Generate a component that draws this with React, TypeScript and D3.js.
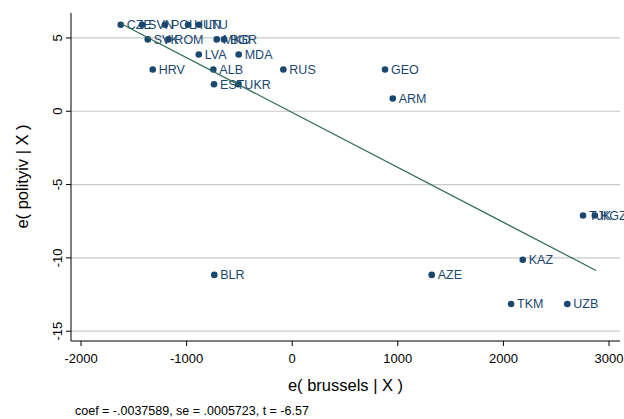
import React, { useMemo } from 'react';
import * as d3 from 'd3';

// country residuals
const countries = [
  'CZE', 'SVN', 'POL', 'HUN', 'LTU',
  'SVK', 'ROM', 'MKD', 'BGR',
  'LVA', 'MDA',
  'HRV', 'ALB', 'RUS', 'GEO',
  'EST', 'UKR', 'ARM',
  'TJK', 'KGZ', 'KAZ',
  'BLR', 'AZE', 'TKM', 'UZB',
];
const eBrussels = [
  -1624, -1422, -1205, -987, -883,
  -1368, -1173, -715, -646,
  -885, -507,
  -1321, -747, -84, 879,
  -741, -510, 952,
  2754, 2866, 2183,
  -738, 1321, 2072, 2605,
];
const ePolity = [
  5.9, 5.9, 5.9, 5.9, 5.9,
  4.9, 4.9, 4.9, 4.9,
  3.87, 3.87,
  2.85, 2.85, 2.85, 2.85,
  1.84, 1.84, 0.87,
  -7.11, -7.11, -10.13,
  -11.16, -11.16, -13.14, -13.14,
];

// fitted line endpoints
const fitX = [-1624, 2877];
const fitY = [5.99, -10.86];

const xTicks = [-2000, -1000, 0, 1000, 2000, 3000];
const yTicks = [5, 0, -5, -10, -15];

const note = 'coef = -.0037589, se = .0005723, t = -6.57';

const W = 624;
const H = 419;
const NAVY = '#1a476f';
const FONT = 'Arial, "Liberation Sans", Helvetica, sans-serif';

if (typeof document !== 'undefined') document.body.style.margin = '0';

export default function App() {
  const x = useMemo(() => d3.scaleLinear().domain([-2095, 3104]).range([71, 620]), []);
  const y = useMemo(() => d3.scaleLinear().domain([6.7, -15.6]).range([13, 340]), []);

  const line = d3
    .line<number>()
    .x((d) => x(fitX[d]))
    .y((d) => y(fitY[d]));

  const [x0, x1] = x.range();
  const axisY = 341;

  return (
    <svg width={W} height={H} style={{ display: 'block', background: '#fff', fontFamily: FONT }}>
      {/* grid lines */}
      {yTicks.map((t) => (
        <line key={'g' + t} x1={x0} x2={x1} y1={y(t)} y2={y(t)} stroke="#c8c8c8" strokeWidth={1.2} />
      ))}

      {/* y axis */}
      <line x1={x0} x2={x0} y1={13} y2={axisY} stroke="#000" strokeWidth={1} />
      {yTicks.map((t) => (
        <g key={'y' + t}>
          <line x1={x0 - 5} x2={x0} y1={y(t)} y2={y(t)} stroke="#000" />
          <text
            transform={`translate(${x0 - 9},${y(t)}) rotate(-90)`}
            textAnchor="middle"
            fontSize={13}
            fill="#000"
          >
            {t}
          </text>
        </g>
      ))}
      <text transform={`translate(28,${(13 + 340) / 2}) rotate(-90)`} textAnchor="middle" fontSize={16.5}>
        e( polityiv | X )
      </text>

      {/* x axis */}
      <line x1={x0} x2={x1} y1={axisY} y2={axisY} stroke="#000" strokeWidth={1} />
      {xTicks.map((t) => (
        <g key={'x' + t}>
          <line x1={x(t)} x2={x(t)} y1={axisY} y2={axisY + 5} stroke="#000" />
          <text x={x(t)} y={axisY + 22} textAnchor="middle" fontSize={13} fill="#000">
            {t}
          </text>
        </g>
      ))}
      <text x={(x0 + x1) / 2} y={391} textAnchor="middle" fontSize={16.5}>
        e( brussels | X )
      </text>

      {/* points with labels */}
      {countries.map((c, i) => (
        <g key={c}>
          <circle cx={x(eBrussels[i])} cy={y(ePolity[i])} r={3.3} fill={NAVY} />
          <text
            x={x(eBrussels[i]) + 6}
            y={y(ePolity[i]) + 4.5}
            fontSize={12.5}
            fill={NAVY}
          >
            {c}
          </text>
        </g>
      ))}

      {/* fitted line */}
      <path d={line([0, 1]) || ''} fill="none" stroke="#2e6b58" strokeWidth={1.2} />

      <text x={75} y={415} fontSize={12.5} fill="#000">
        {note}
      </text>
    </svg>
  );
}
